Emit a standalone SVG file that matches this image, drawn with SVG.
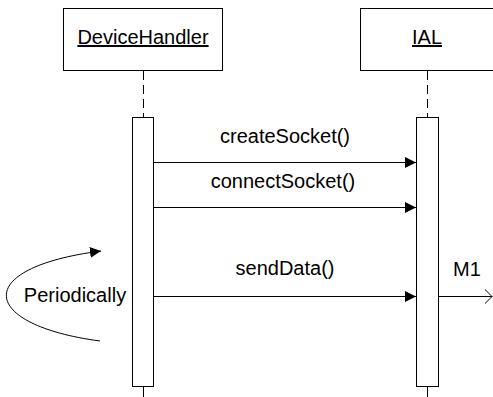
<svg xmlns="http://www.w3.org/2000/svg" width="493" height="397" viewBox="0 0 493 397">
<defs>
<style>
.box{fill:#fff;stroke:#000;stroke-width:1}
.life{stroke:#000;stroke-width:1;stroke-dasharray:9,5;fill:none}
.msg{stroke:#000;stroke-width:1;fill:none}
.lbl{font-family:"Liberation Sans",Arial,sans-serif;font-size:20px;fill:#000;text-anchor:middle}
.u{text-decoration:underline}
</style>
<marker id="fill" viewBox="0 0 11 11" refX="11" refY="5.5" markerWidth="11" markerHeight="11" markerUnits="userSpaceOnUse" orient="auto">
<path d="M0,0 L11,5.5 L0,11 Z" fill="#000"/>
</marker>
<marker id="open" viewBox="0 0 8 16" refX="7.5" refY="8" markerWidth="8" markerHeight="16" markerUnits="userSpaceOnUse" orient="auto">
<path d="M0,0.5 L7.5,8 L0,15.5" fill="none" stroke="#000" stroke-width="1"/>
</marker>
</defs>
<g id="DeviceHandler">
<rect class="box" x="63.5" y="8.5" width="159" height="62"/>
<text class="lbl u" x="143" y="44">DeviceHandler</text>
<line class="life" x1="143.5" y1="71" x2="143.5" y2="117"/>
<rect class="box" x="132.5" y="117.5" width="21" height="269"/>
<line class="msg" x1="143.5" y1="387" x2="143.5" y2="397"/>
</g>
<g id="IAL">
<rect class="box" x="360.5" y="8.5" width="134" height="62"/>
<text class="lbl u" x="427" y="44">IAL</text>
<line class="life" x1="427.5" y1="71" x2="427.5" y2="117"/>
<rect class="box" x="416.5" y="117.5" width="22" height="269"/>
<line class="msg" x1="427.5" y1="387" x2="427.5" y2="397"/>
</g>
<g id="connectors">
<line class="msg" x1="154" y1="162.5" x2="416" y2="162.5" marker-end="url(#fill)"/>
<line class="msg" x1="154" y1="207.5" x2="416" y2="207.5" marker-end="url(#fill)"/>
<line class="msg" x1="154" y1="296.5" x2="416" y2="296.5" marker-end="url(#fill)"/>
<line class="msg" x1="439" y1="296.5" x2="492" y2="296.5" marker-end="url(#open)"/>
<path class="msg" d="M100,341 C-20,325 -30,268 101,251" marker-end="url(#fill)"/>
</g>
<g id="labels">
<text class="lbl" x="285" y="143">createSocket()</text>
<text class="lbl" x="283" y="188">connectSocket()</text>
<text class="lbl" x="285" y="275">sendData()</text>
<text class="lbl" x="467" y="276">M1</text>
<text class="lbl" x="75" y="302">Periodically</text>
</g>
</svg>
